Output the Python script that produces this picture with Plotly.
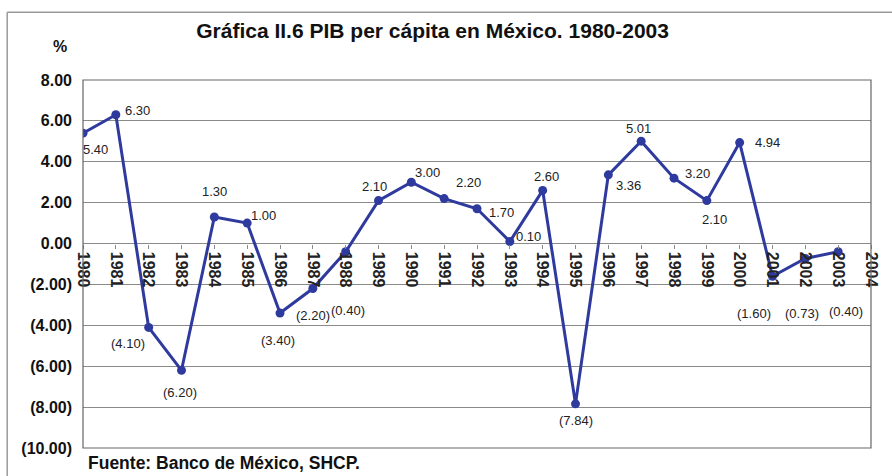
import plotly.graph_objects as go

# PIB per cápita, variación anual (%)
years = list(range(1980, 2004))
values = [5.40, 6.30, -4.10, -6.20, 1.30, 1.00, -3.40, -2.20, -0.40, 2.10,
          3.00, 2.20, 1.70, 0.10, 2.60, -7.84, 3.36, 5.01, 3.20, 2.10,
          4.94, -1.60, -0.73, -0.40]

y_ticks = [8, 6, 4, 2, 0, -2, -4, -6, -8, -10]
x_ticks = list(range(1980, 2005))

# pixel offsets (dx, dy) of each value label relative to its marker
label_offsets = [(12, -16), (22, 4), (-21, -16), (-2, -22), (0, 25), (16, 8),
                 (-2, -27), (0, -27), (2, -59), (-4, 14), (16, 10), (24, 16),
                 (24, -4), (19, 5), (4, 14), (0, -17), (20, -11), (-3, 13),
                 (23, 5), (8, -19), (28, 0), (-19, -37), (-3, -55), (8, -60)]

LINE = "#2f3a9e"
GRID = "#8a8a8a"
FONT = "Arial, Liberation Sans, sans-serif"


def fmt(v):
    return f"({abs(v):.2f})" if v < 0 else f"{v:.2f}"


fig = go.Figure()
fig.add_trace(go.Scatter(
    x=years, y=values, mode="lines+markers",
    line=dict(color=LINE, width=3),
    marker=dict(color=LINE, size=9),
    hoverinfo="x+y", showlegend=False,
))

for yr, v, (dx, dy) in zip(years, values, label_offsets):
    fig.add_annotation(x=yr, y=v, text=fmt(v), showarrow=False,
                       xshift=dx, yshift=dy,
                       font=dict(family=FONT, size=13, color="#222222"))

fig.update_layout(
    width=892, height=476,
    margin=dict(l=83, r=19, t=80, b=28),
    paper_bgcolor="white", plot_bgcolor="white",
    title=dict(text="<b>Gráfica II.6 PIB per cápita en México. 1980-2003</b>",
               x=0.485, xanchor="center", y=0.935, yanchor="middle",
               font=dict(family=FONT, size=21, color="#111111")),
    xaxis=dict(range=[1980, 2004], tickvals=x_ticks,
               ticktext=[f"<b>{t}</b>" for t in x_ticks], tickangle=90,
               anchor="free", position=10 / 18,
               showgrid=False, zeroline=False, showline=False,
               ticks="outside", ticklen=4, tickcolor=GRID,
               tickfont=dict(family=FONT, size=16, color="#222222"),
               fixedrange=True),
    yaxis=dict(range=[-10, 8], tickvals=y_ticks,
               ticktext=[f"<b>{fmt(t)}</b>" for t in y_ticks],
               showgrid=True, gridcolor=GRID, gridwidth=1,
               zeroline=False, showline=False, ticks="",
               tickfont=dict(family=FONT, size=16, color="#111111"),
               ticklabelstandoff=10, fixedrange=True),
)

# plot area frame
fig.add_shape(type="rect", xref="x domain", yref="y domain",
              x0=0, x1=1, y0=0, y1=1, line=dict(color="#666666", width=1.2))
# outer frame (left and top edges)
fig.add_shape(type="line", xref="paper", yref="paper",
              x0=-0.0962, x1=-0.0962, y0=-0.1, y1=1.184,
              line=dict(color="#999999", width=1.5))
fig.add_shape(type="line", xref="paper", yref="paper",
              x0=-0.0962, x1=1.03, y0=1.184, y1=1.184,
              line=dict(color="#999999", width=1.5))

fig.add_annotation(xref="paper", yref="paper", x=-0.029, y=1.09,
                   text="<b>%</b>", showarrow=False, xanchor="center",
                   yanchor="middle",
                   font=dict(family=FONT, size=16, color="#111111"))
fig.add_annotation(xref="paper", yref="paper", x=0.004, y=-0.042,
                   text="<b>Fuente: Banco de México, SHCP.</b>",
                   showarrow=False, xanchor="left", yanchor="middle",
                   font=dict(family=FONT, size=17.5, color="#111111"))

fig.write_html("out.html")
